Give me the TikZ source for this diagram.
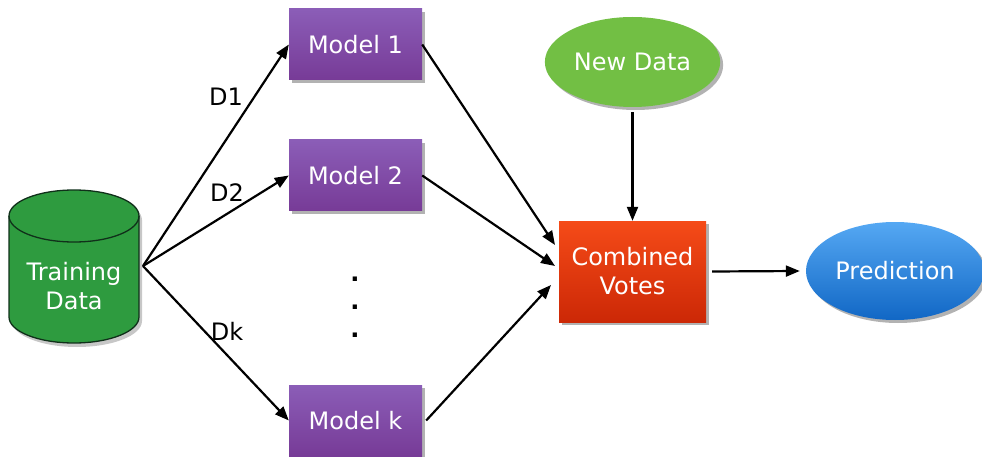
\documentclass[tikz,border=0pt]{standalone}
\usepackage{fontspec}
\setmainfont{DejaVu Sans}
\usetikzlibrary{shapes.geometric,shadows,arrows.meta}
\definecolor{purpT}{HTML}{8B5DB7}
\definecolor{purpB}{HTML}{773B97}
\definecolor{cylG}{HTML}{2E9B3F}
\definecolor{cylD}{HTML}{10301A}
\definecolor{newG}{HTML}{72BF44}
\definecolor{cvT}{HTML}{F54B18}
\definecolor{cvB}{HTML}{CC2806}
\definecolor{prT}{HTML}{55A8F3}
\definecolor{prB}{HTML}{1167C5}
\begin{document}
\begin{tikzpicture}[x=1pt,y=-1pt,
  txt/.style={font=\fontsize{24}{29}\selectfont},
  shad/.style={drop shadow={shadow xshift=3pt,shadow yshift=-3pt,opacity=0.3,fill=black}},
  model/.style={rectangle, minimum width=133pt, minimum height=71pt, top color=purpT, bottom color=purpB, text=white, txt, shad},
  conn/.style={line width=2.2pt, -{Triangle[length=14pt,width=11pt]}},
  lab/.style={txt, text=black}]
\useasboundingbox (0,0) rectangle (982,457);
% cylinder
\fill[black,opacity=0.22] (12,220) -- (12,321) arc[start angle=180,end angle=360,x radius=65pt,y radius=26pt] -- (142,220) arc[start angle=0,end angle=180,x radius=65pt,y radius=26pt] -- cycle;
\path[fill=cylG, draw=cylD, line width=1.3pt] (9,216) -- (9,317) arc[start angle=180,end angle=360,x radius=65pt,y radius=26pt] -- (139,216) arc[start angle=0,end angle=180,x radius=65pt,y radius=26pt] -- cycle;
\draw[cylD, line width=1.3pt] (9,216) arc[start angle=180,end angle=360,x radius=65pt,y radius=26pt];
\node[txt, text=white, align=center] (td) at (74,286) {Training\\Data};
\coordinate (src) at (143,266);
% models
\node[model] (m1) at (355.5,44.5) {Model 1};
\node[model] (m2) at (355.5,175.5) {Model 2};
\node[model] (mk) at (355.5,420.5) {Model k};
% dots
\node[txt, font=\fontsize{24}{29}\bfseries, anchor=base] (d1) at (355,281) {.};
\node[txt, font=\fontsize{24}{29}\bfseries, anchor=base] (d2) at (355,309) {.};
\node[txt, font=\fontsize{24}{29}\bfseries, anchor=base] (d3) at (355,337) {.};
% new data
\node[ellipse, fill=newG, minimum width=164pt, minimum height=90pt, text=white, txt, shad] (nd) at (632.5,62) {New Data};
% combined votes
\node[rectangle, minimum width=147pt, minimum height=101pt, top color=cvT, bottom color=cvB, text=white, txt, align=center, shad] (cv) at (632.5,271.5) {Combined\\Votes};
% prediction
\node[ellipse, top color=prT, bottom color=prB, minimum width=168pt, minimum height=98pt, text=white, txt, shad] (pr) at (895,271) {Prediction};
% labels
\node[lab] (l1) at (226,97) {D1};
\node[lab] (l2) at (227,193) {D2};
\node[lab] (lk) at (227,331) {Dk};
% connectors
\draw[conn] (src) -- (m1.west);
\draw[conn] (src) -- (m2.west);
\draw[conn] (src) -- (mk.west);
\coordinate (c1) at (555,245);
\coordinate (c2) at (555,266);
\coordinate (c3) at (551,285);
\draw[conn] (m1.east) -- (c1);
\draw[conn] (m2.east) -- (c2);
\draw[conn] ([xshift=4pt]mk.east) -- (c3);
\draw[conn] ([yshift=-5pt]nd.south) -- (cv.north);
\draw[conn] ([xshift=6pt]cv.east) -- ([xshift=-6pt]pr.west);
\end{tikzpicture}
\end{document}
